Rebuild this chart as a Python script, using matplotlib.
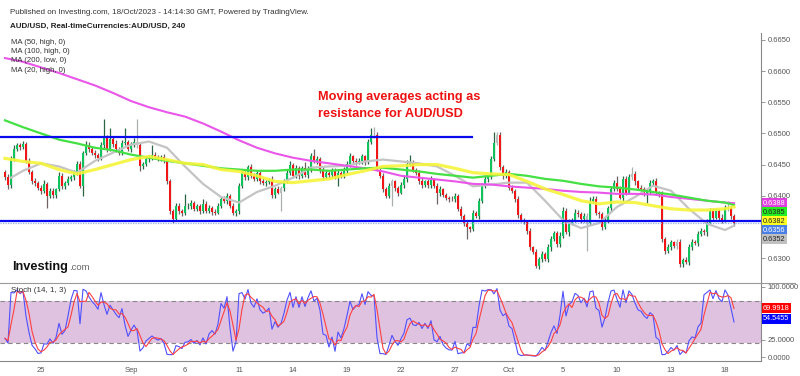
import numpy as np
import pandas as pd
import matplotlib
matplotlib.use("Agg")
import matplotlib.pyplot as plt
from matplotlib.lines import Line2D

plt.rcParams['font.family'] = ['Liberation Sans', 'DejaVu Sans']

# 4h candles, AUD/USD, 23 Aug -> 18 Oct 2023 (prices in pips)
first_open = 6438
closes = [
    6430, 6417, 6459, 6475, 6481, 6478, 6483, 6456, 6438, 6424, 6420, 6413,
    6408, 6419, 6400, 6408, 6401, 6410, 6432, 6415, 6420, 6427, 6430, 6438,
    6451, 6416, 6469, 6482, 6475, 6469, 6465, 6460, 6481, 6492, 6475, 6491,
    6483, 6475, 6469, 6485, 6486, 6475, 6481, 6486, 6481, 6447, 6451, 6459,
    6462, 6465, 6462, 6460, 6462, 6456, 6423, 6376, 6363, 6384, 6376, 6372,
    6383, 6384, 6388, 6379, 6383, 6376, 6387, 6376, 6380, 6374, 6373, 6384,
    6394, 6392, 6400, 6384, 6372, 6376, 6416, 6437, 6430, 6446, 6432, 6427,
    6437, 6424, 6420, 6422, 6426, 6401, 6410, 6405, 6412, 6423, 6437, 6449,
    6432, 6444, 6432, 6444, 6433, 6443, 6463, 6455, 6459, 6442, 6430, 6437,
    6433, 6440, 6430, 6437, 6432, 6440, 6451, 6463, 6456, 6454, 6455, 6463,
    6455, 6486, 6497, 6498, 6442, 6432, 6411, 6400, 6415, 6423, 6412, 6405,
    6417, 6427, 6451, 6454, 6442, 6437, 6424, 6417, 6423, 6417, 6426, 6416,
    6404, 6410, 6401, 6397, 6395, 6394, 6400, 6379, 6367, 6357, 6349, 6346,
    6372, 6368, 6392, 6416, 6427, 6430, 6459, 6485, 6498, 6446, 6432, 6438,
    6413, 6408, 6395, 6369, 6361, 6358, 6344, 6317, 6309, 6287, 6298, 6306,
    6298, 6317, 6330, 6340, 6322, 6336, 6376, 6341, 6357, 6361, 6373, 6370,
    6362, 6368, 6357, 6392, 6395, 6373, 6370, 6349, 6361, 6380, 6410, 6420,
    6411, 6397, 6427, 6405, 6430, 6435, 6423, 6413, 6411, 6405, 6406, 6420,
    6423, 6405, 6403, 6330, 6311, 6317, 6325, 6319, 6326, 6290, 6297, 6293,
    6318, 6326, 6324, 6338, 6344, 6341, 6357, 6376, 6365, 6376, 6365, 6361,
    6381, 6380, 6368, 6356,
]
up_wick = [
    3, 5, 4, 6, 3, 4, 5, 3, 4, 3, 5, 4,
    4, 6, 3, 5, 4, 3, 6, 4, 3, 5, 4, 3,
    4, 5, 3, 6, 4, 3, 5, 4, 6, 31, 5, 17,
    4, 6, 3, 5, 22, 4, 5, 6, 37, 4, 3, 5,
    4, 16, 5, 3, 4, 5, 3, 4, 3, 5, 4, 3,
    19, 4, 5, 3, 4, 3, 8, 4, 5, 3, 4, 5,
    4, 6, 5, 3, 4, 3, 5, 6, 4, 3, 5, 4,
    4, 3, 5, 4, 3, 5, 4, 6, 3, 4, 5, 6,
    4, 5, 3, 4, 10, 4, 5, 12, 4, 3, 4, 5,
    3, 4, 5, 4, 3, 6, 4, 5, 3, 4, 5, 4,
    3, 5, 11, 12, 4, 3, 4, 3, 5, 4, 3, 4,
    5, 4, 6, 11, 4, 3, 4, 5, 3, 4, 5, 3,
    4, 5, 3, 4, 3, 5, 4, 3, 4, 3, 4, 3,
    5, 4, 5, 4, 6, 4, 5, 17, 4, 5, 4, 5,
    3, 4, 3, 4, 3, 4, 3, 4, 3, 5, 4, 5,
    4, 5, 6, 4, 3, 5, 6, 4, 5, 4, 6, 4,
    4, 5, 4, 6, 5, 4, 3, 4, 5, 4, 6, 5,
    12, 4, 5, 4, 5, 11, 4, 3, 4, 3, 4, 5,
    4, 5, 3, 4, 3, 5, 4, 3, 5, 4, 3, 4,
    5, 4, 3, 5, 4, 3, 6, 4, 5, 4, 3, 5,
    4, 11, 4, 3,
]
dn_wick = [
    4, 6, 5, 3, 4, 5, 3, 4, 3, 5, 4, 4,
    5, 4, 20, 3, 5, 4, 3, 5, 4, 3, 4, 5,
    4, 3, 16, 4, 5, 3, 4, 5, 3, 4, 5, 3,
    4, 5, 3, 4, 3, 4, 5, 3, 4, 7, 4, 3,
    5, 4, 3, 4, 5, 3, 4, 5, 6, 4, 5, 4,
    3, 4, 5, 3, 4, 5, 3, 4, 3, 5, 4, 3,
    4, 3, 5, 4, 3, 4, 5, 3, 4, 5, 4, 3,
    4, 5, 3, 4, 3, 4, 5, 3, 29, 4, 3, 4,
    4, 3, 5, 4, 3, 4, 5, 3, 4, 5, 4, 3,
    4, 5, 3, 14, 4, 3, 4, 5, 3, 4, 3, 4,
    5, 4, 3, 4, 3, 4, 5, 4, 3, 31, 4, 5,
    3, 4, 5, 3, 4, 3, 5, 4, 3, 4, 5, 3,
    17, 4, 3, 4, 5, 3, 4, 3, 4, 5, 19, 4,
    3, 4, 5, 3, 4, 5, 3, 4, 3, 4, 5, 3,
    4, 3, 5, 4, 3, 4, 5, 4, 3, 3, 4, 5,
    3, 4, 5, 3, 4, 5, 4, 3, 5, 4, 3, 4,
    5, 4, 46, 4, 3, 4, 5, 4, 3, 4, 5, 3,
    4, 3, 5, 4, 3, 4, 5, 3, 4, 5, 16, 4,
    3, 4, 5, 4, 5, 3, 4, 3, 4, 5, 4, 3,
    4, 5, 3, 4, 3, 4, 5, 3, 4, 3, 5, 4,
    3, 4, 5, 4,
]
grey_bars = [44, 92, 123, 129, 164, 194, 209, 224, 241]

# moving averages, read once per trading day
ma_idx = list(range(0, 241, 6)) + [243]
ma20_idx = [2] + list(range(6, 241, 6)) + [243]
ma200_low = [0.6621, 0.6615, 0.6606, 0.6597, 0.6587, 0.6577, 0.6565, 0.6552, 0.6542, 0.6534,
             0.6527, 0.6516, 0.6503, 0.6489, 0.6477, 0.6468, 0.6461, 0.6456, 0.6452, 0.6448,
             0.6444, 0.6439, 0.6432, 0.6429, 0.6426, 0.6423, 0.6419, 0.6418, 0.6415, 0.6413,
             0.6411, 0.6408, 0.6406, 0.6405, 0.6403, 0.6403, 0.6402, 0.6398, 0.6395, 0.6392,
             0.6389, 0.6388]
ma100_high = [0.6521, 0.6510, 0.6500, 0.6490, 0.6484, 0.6477, 0.6473, 0.6466, 0.6461, 0.6456,
              0.6452, 0.6448, 0.6444, 0.6442, 0.6440, 0.6440, 0.6442, 0.6442, 0.6440, 0.6442,
              0.6444, 0.6445, 0.6442, 0.6439, 0.6435, 0.6432, 0.6429, 0.6432, 0.6435, 0.6432,
              0.6427, 0.6424, 0.6419, 0.6415, 0.6413, 0.6410, 0.6406, 0.6402, 0.6397, 0.6392,
              0.6389, 0.6385]
ma50_high = [0.6460, 0.6455, 0.6452, 0.6442, 0.6435, 0.6442, 0.6450, 0.6458, 0.6463, 0.6458,
             0.6452, 0.6450, 0.6442, 0.6439, 0.6432, 0.6423, 0.6421, 0.6424, 0.6427, 0.6434,
             0.6440, 0.6447, 0.6448, 0.6450, 0.6450, 0.6444, 0.6437, 0.6435, 0.6434, 0.6423,
             0.6411, 0.6402, 0.6392, 0.6387, 0.6390, 0.6389, 0.6384, 0.6379, 0.6377, 0.6377,
             0.6379, 0.6382]
ma20_high = [0.6429, 0.6440, 0.6452, 0.6447, 0.6437, 0.6456, 0.6469, 0.6482, 0.6487, 0.6477,
             0.6447, 0.6419, 0.6398, 0.6389, 0.6406, 0.6416, 0.6429, 0.6445, 0.6447, 0.6448,
             0.6455, 0.6458, 0.6455, 0.6452, 0.6447, 0.6432, 0.6415, 0.6418, 0.6421, 0.6421,
             0.6392, 0.6361, 0.6348, 0.6356, 0.6382, 0.6398, 0.6416, 0.6408, 0.6379, 0.6355,
             0.6345, 0.6352]

resistance = 0.6494
support = 0.6359
price_ticks = [0.6300, 0.6400, 0.6450, 0.6500, 0.6550, 0.6600, 0.6650]
stoch_ticks = [0, 25, 100]
day_idx = [12, 42, 60, 78, 96, 114, 132, 150, 168, 186, 204, 222, 240]
day_labels = ["25", "Sep", "6", "11", "14", "19", "22", "27", "Oct", "5", "10", "13", "18"]
stoch_k_last = "54.5455"
stoch_d_last = "69.9918"

c = np.array(closes) / 10000
o = np.concatenate([[first_open / 10000], c[:-1]])
h = np.maximum(o, c) + np.array(up_wick) / 10000
l = np.minimum(o, c) - np.array(dn_wick) / 10000
x = np.arange(len(c))

hh = pd.Series(h).rolling(14, min_periods=1).max()
ll = pd.Series(l).rolling(14, min_periods=1).min()
k = 100 * (pd.Series(c) - ll) / (hh - ll)
d = k.rolling(3, min_periods=1).mean()

W, H = 800, 376
fig = plt.figure(figsize=(8, 3.76), dpi=100)
ax = fig.add_axes([0, (H - 283) / H, 761 / W, 250 / H])
ax2 = fig.add_axes([0, (H - 361) / H, 761 / W, 78 / H])

# candles
up = c >= o
col = np.where(up, '#10c25c', '#f21515')
wcol = np.where(up, '#2a6544', '#6e6262')
for i in grey_bars:
    col[i] = '#b8bfbb'
    wcol[i] = '#a9b0ac'
ax.vlines(x, l, h, colors=wcol, linewidth=0.9, zorder=2)
body = np.maximum(np.abs(c - o), 0.0001)
ax.bar(x, body, bottom=np.minimum(o, c), width=0.8, color=col, linewidth=0, zorder=3)

ax.plot(ma20_idx, ma20_high, color='#c4c4c4', lw=1.6, zorder=4)
ax.plot(ma_idx, ma200_low, color='#ea55ea', lw=1.5, zorder=4)
ax.plot(ma_idx, ma100_high, color='#44e044', lw=1.6, zorder=4)
ax.plot(ma_idx, ma50_high, color='#f4f43a', lw=2.3, alpha=0.9, zorder=4)

ax.plot([-2, 155.7], [resistance, resistance], color='#0a0af0', lw=1.6, zorder=5)
ax.axhline(support, color='#0a0af0', lw=1.6, zorder=5)
ax.axhline(c[-1], color='#8fb0ea', lw=0.9, ls=(0, (1, 1)), zorder=5)

ax.set_xlim(-5 / 3, 756 / 3)
ax.set_ylim(0.62599, 0.66612)
ax.set_xticks([])
ax.yaxis.tick_right()
ax.set_yticks(price_ticks)
ax.yaxis.set_major_formatter(matplotlib.ticker.FormatStrFormatter('%.4f'))
ax.tick_params(axis='y', length=3, width=0.6, color='#888888', labelsize=5.5,
               labelcolor='#555555', pad=2)
for s in ['top', 'left', 'bottom']:
    ax.spines[s].set_visible(False)
ax.spines['right'].set_color('#888888')
ax.spines['right'].set_linewidth(0.8)

# stochastic
ax2.axhspan(20, 80, color='#dfc2df', lw=0, zorder=0)
ax2.axhline(80, color='#888888', lw=0.8, ls=(0, (4, 3)), zorder=1)
ax2.axhline(20, color='#888888', lw=0.8, ls=(0, (4, 3)), zorder=1)
ax2.plot(x, k, color='#5050ff', lw=0.8, zorder=3)
ax2.plot(x, d, color='#ff4040', lw=0.8, zorder=3)
ax2.set_xlim(-5 / 3, 756 / 3)
ax2.set_ylim(-5.7, 105.7)
ax2.yaxis.tick_right()
ax2.set_yticks(stoch_ticks)
ax2.yaxis.set_major_formatter(matplotlib.ticker.FormatStrFormatter('%.4f'))
ax2.tick_params(axis='y', length=3, width=0.6, color='#888888', labelsize=5.5,
                labelcolor='#555555', pad=2)
ax2.set_xticks(day_idx)
ax2.set_xticklabels(day_labels)
ax2.tick_params(axis='x', length=0, labelsize=5.5, labelcolor='#555555', pad=4)
ax2.spines['top'].set_visible(False)
ax2.spines['left'].set_visible(False)
ax2.spines['right'].set_color('#888888')
ax2.spines['right'].set_linewidth(0.8)
ax2.spines['bottom'].set_color('#888888')
ax2.spines['bottom'].set_linewidth(0.8)

fig.add_artist(Line2D([0, 795 / W], [(H - 283) / H] * 2, color='#999999', lw=0.8))

# value labels on the right axes
def px(axis, v):
    return axis.transData.transform((0, v))[1]

def boxes(axis, items, gap=9.0):
    prev = None
    for v, txt, fc, tc in items:
        y = px(axis, v)
        if prev is not None and y > prev - gap:
            y = prev - gap
        prev = y
        fig.text(763 / W, y / H, txt, fontsize=5.3, color=tc, va='center', ha='left',
                 bbox=dict(boxstyle='square,pad=0.18', fc=fc, ec='none'), zorder=10)

boxes(ax, [
    (ma200_low[-1], f"{ma200_low[-1]:.4f}", '#e040e0', 'white'),
    (ma100_high[-1], f"{ma100_high[-1]:.4f}", '#22ee22', '#222222'),
    (ma50_high[-1], f"{ma50_high[-1]:.4f}", '#ffff22', '#222222'),
    (c[-1], f"{c[-1]:.4f}", '#4a7fe6', 'white'),
    (ma20_high[-1], f"{ma20_high[-1]:.4f}", '#c0c0c0', '#222222'),
])
boxes(ax2, [
    (float(stoch_d_last), stoch_d_last, '#ff0000', 'white'),
    (float(stoch_k_last), stoch_k_last, '#0000ff', 'white'),
])

# texts
fig.text(10 / W, 1 - 12 / H, "Published on Investing.com, 18/Oct/2023 - 14:14:30 GMT, Powered by TradingView.",
         fontsize=5.8, color='#333333', va='center')
fig.text(10 / W, 1 - 26 / H, "AUD/USD, Real-timeCurrencies:AUD/USD, 240",
         fontsize=5.8, color='#222222', weight='bold', va='center')
for j, t in enumerate(["MA (50, high, 0)", "MA (100, high, 0)", "MA (200, low, 0)", "MA (20, high, 0)"]):
    fig.text(11 / W, 1 - (42 + 9.5 * j) / H, t, fontsize=5.6, color='#333333', va='center')
fig.text(318 / W, 1 - 97 / H, "Moving averages acting as", fontsize=9.2, color='#ee1111',
         weight='bold', va='center')
fig.text(318 / W, 1 - 114 / H, "resistance for AUD/USD", fontsize=9.2, color='#ee1111',
         weight='bold', va='center')
logo = fig.text(12 / W, 1 - 267 / H, "Investing", fontsize=9.2, color='#111111',
                weight='bold', va='center')
fig.canvas.draw()
logo_end = logo.get_window_extent().x1
fig.text((logo_end + 1) / W, 1 - 268 / H, ".com", fontsize=6.8, color='#666666', va='center')
fig.text(11 / W, 1 - 291 / H, "Stoch (14, 1, 3)", fontsize=5.8, color='#333333', va='center')

fig.savefig("out.png", dpi=100, facecolor='white')
